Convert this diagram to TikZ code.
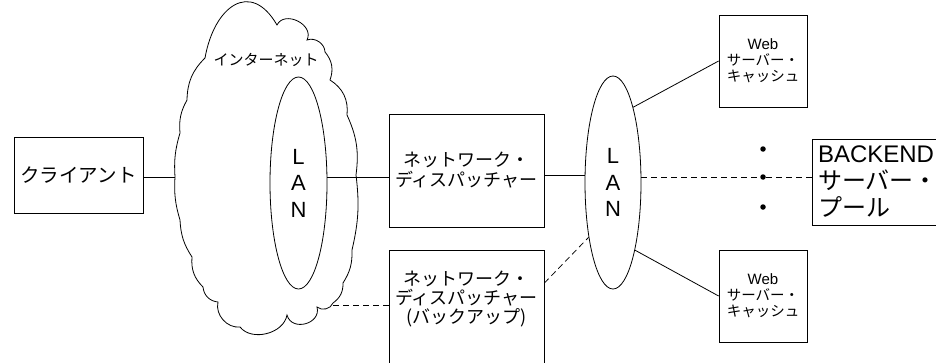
\documentclass[tikz,border=0pt]{standalone}
\usepackage{fontspec}
\setmainfont{Liberation Sans}
\newfontfamily\jp{Noto Sans CJK JP}
\usetikzlibrary{shapes.geometric}
\begin{document}
\begin{tikzpicture}[x=1pt,y=-1pt,line width=0.8pt,
  box/.style={draw,rectangle,inner sep=0pt},
  lan/.style={draw,ellipse,inner sep=0pt,minimum width=57pt,minimum height=212pt,
    align=center,font=\fontsize{22}{26.5}\selectfont},
  dashline/.style={dash pattern=on 6pt off 4pt},
  dotnode/.style={circle,fill=black,inner sep=0pt,minimum size=5.5pt},
  webbox/.style={box,minimum width=88pt,minimum height=92pt,align=center,
    font=\jp\fontsize{14.5}{16}\selectfont}]
\clip (0,0) rectangle (936,362);
\fill[white] (0,0) rectangle (936,362);

% client
\node[box,minimum width=129pt,minimum height=76pt,font=\jp\fontsize{19.5}{23}\selectfont]
  (client) at (78.5,175) {クライアント};

% internet cloud
\node[ellipse,inner sep=0pt,minimum width=182pt,minimum height=325pt] (inet) at (266,173) {};
\draw (205,58) to[out=80,in=120,looseness=1.7] (277,25)
  to[bend left=90,looseness=1.3] (307,40)
  to[bend left=55] (325,52)
  to[bend left=30] (330,80)
  to[bend left=32] (347,115)
  to[bend left=16] (356,175)
  to[bend left=10] (352,250)
  to[bend left=17] (343,283)
  to[bend left=28] (333,303)
  to[bend left=55] (317,307)
  to[bend left=90,looseness=1.45] (287,315)
  to[bend left=66] (240,327)
  to[bend left=55] (218,302)
  to[bend left=40] (203,287)
  to[bend left=25] (192,257)
  to[bend left=15] (180,220)
  to[bend left=10] (175,177)
  to[bend left=10] (180,133)
  to[bend left=17] (187,100)
  to[bend left=22] (205,58) -- cycle;
\node[font=\jp\fontsize{15}{18}\selectfont,inner sep=0pt] (inetlbl) at (266,60) {インターネット};

% LANs
\node[lan] (lan1) at (298.5,183) {L\\A\\N};
\node[lan,minimum width=56pt,minimum height=213pt] (lan2) at (613,182.5) {L\\A\\N};

% dispatchers
\node[box,minimum width=155pt,minimum height=113pt,align=center,
  font=\jp\fontsize{18}{20}\selectfont] (disp) at (466.5,170.5) {ネットワーク・\\ディスパッチャー};
\node[box,minimum width=155pt,minimum height=120pt] (backup) at (466.5,310) {};
\node[align=center,inner sep=0pt,font=\jp\fontsize{18}{19}\selectfont]
  (backuplbl) at (466.5,299) {ネットワーク・\\ディスパッチャー\\(バックアップ)};

% web caches
\node[webbox] (web1) at (763,61) {{\rmfamily\fontsize{15}{16}\selectfont Web}\\サーバー・\\キャッシュ};
\node[webbox] (web2) at (763,296) {{\rmfamily\fontsize{15}{16}\selectfont Web}\\サーバー・\\キャッシュ};

% backend
\node[box,minimum width=126pt,minimum height=86pt,text width=114pt,inner xsep=6pt,
  align=left,font=\fontsize{24}{27}\selectfont] (backend) at (875,182)
  {BACKEND\\{\jp サーバー・}\\{\jp プール}};

% dots
\node[dotnode] (d1) at (763,149) {};
\node[dotnode] (d2) at (763,177) {};
\node[dotnode] (d3) at (763,207) {};

% connectors
\draw (client.east |- 0,177) -- (inet.west |- 0,177);
\draw (lan1.east |- 0,177) -- (disp.west |- 0,177);
\draw (disp.east |- 0,175) -- (lan2.west |- 0,175);
\draw (lan2.75) -- (web1.west);
\draw (lan2.288) -- (web2.west);
\draw[dashline] (lan2.east |- 0,177) -- (d2) -- (backend.west |- 0,177);
\draw[dashline] (backup.east |- 0,283) -- (lan2.246);
\coordinate (cloudedge) at (333,305);
\draw[dashline] (cloudedge) -- (backup.west |- 0,305);
\end{tikzpicture}
\end{document}
